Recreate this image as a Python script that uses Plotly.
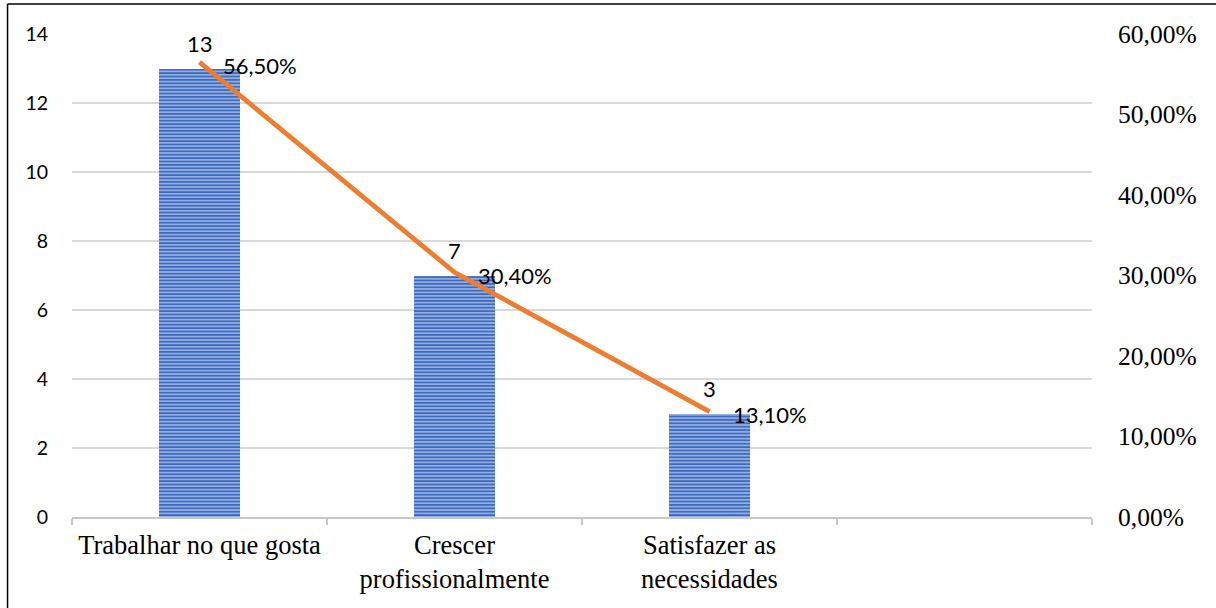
import plotly.graph_objects as go

# Motivos apontados pelos respondentes
categorias = ["Trabalhar no que gosta", "Crescer<br>profissionalmente", "Satisfazer as<br>necessidades"]
frequencias = [13, 7, 3]
percentuais = [56.5, 30.4, 13.1]
rotulos_percentuais = ["56,50%", "30,40%", "13,10%"]

# eixo de categorias com uma posição extra vazia à direita
eixo_categorias = categorias + [" "]

ticks_esq = [0, 2, 4, 6, 8, 10, 12, 14]
ticks_dir = [0, 10, 20, 30, 40, 50, 60]
ticks_dir_txt = ["0,00%", "10,00%", "20,00%", "30,00%", "40,00%", "50,00%", "60,00%"]

AZUL = "#3E6BC2"
AZUL_CLARO = "#B9CCEC"
LARANJA = "#ED7D31"
CINZA = "#D9D9D9"
FONTE_ROTULO = dict(family="Lato", size=22, color="#000000")

fig = go.Figure()

fig.add_trace(go.Bar(
    x=categorias,
    y=frequencias,
    width=0.315,
    marker=dict(
        color=AZUL_CLARO,
        line=dict(width=0),
        pattern=dict(shape="-", size=3.4, solidity=0.65, fgcolor=AZUL, bgcolor=AZUL_CLARO, fgopacity=1),
    ),
    showlegend=False,
))

fig.add_trace(go.Scatter(
    x=categorias,
    y=percentuais,
    yaxis="y2",
    mode="lines",
    line=dict(color=LARANJA, width=4.8),
    cliponaxis=False,
    showlegend=False,
))

# rótulos de dados: frequência acima da barra, percentual à direita do ponto da linha
anotacoes = []
for cat, v in zip(categorias, frequencias):
    anotacoes.append(dict(
        x=cat, y=v, xref="x", yref="y", text=str(v), showarrow=False,
        yanchor="middle", xanchor="center", yshift=25, font=FONTE_ROTULO,
    ))
for cat, p, txt in zip(categorias, percentuais, rotulos_percentuais):
    anotacoes.append(dict(
        x=cat, y=p, xref="x", yref="y2", text=txt, showarrow=False,
        yanchor="middle", xanchor="left", xshift=21, yshift=-3, font=FONTE_ROTULO,
    ))

fig.update_layout(
    width=1216,
    height=608,
    margin=dict(l=72, r=124, t=34, b=91),
    paper_bgcolor="white",
    plot_bgcolor="white",
    bargap=0,
    annotations=anotacoes,
    xaxis=dict(
        type="category",
        categoryorder="array",
        categoryarray=eixo_categorias,
        range=[-0.5, 3.5],
        tickson="boundaries",
        ticks="outside",
        ticklen=6,
        tickwidth=2,
        tickcolor="#C8C8C8",
        showline=True,
        linecolor="#C8C8C8",
        linewidth=2,
        showgrid=False,
        tickfont=dict(family="Liberation Serif", size=26.5, color="#000000"),
        ticklabelstandoff=3,
    ),
    yaxis=dict(
        range=[0, 14],
        tickvals=ticks_esq,
        showgrid=True,
        gridcolor=CINZA,
        gridwidth=1.5,
        zeroline=False,
        showline=False,
        ticks="",
        tickfont=dict(family="Lato", size=19.5, color="#000000"),
        ticklabelstandoff=23,
    ),
    yaxis2=dict(
        overlaying="y",
        side="right",
        range=[0, 60],
        tickvals=ticks_dir,
        ticktext=ticks_dir_txt,
        showgrid=False,
        zeroline=False,
        showline=False,
        ticks="",
        tickfont=dict(family="Liberation Serif", size=25.5, color="#000000"),
        ticklabelstandoff=25,
    ),
    shapes=[
        # moldura da figura
        dict(type="line", xref="paper", yref="paper",
             x0=-0.0632, x1=-0.0632, y0=1.062, y1=-0.2, line=dict(color="#000000", width=1.5)),
        dict(type="line", xref="paper", yref="paper",
             x0=-0.0632, x1=1.13, y0=1.062, y1=1.062, line=dict(color="#000000", width=1.5)),
    ],
)

fig.write_html("out.html")
